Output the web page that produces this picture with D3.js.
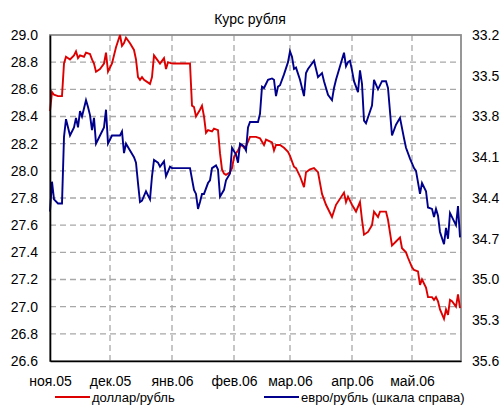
<!DOCTYPE html>
<html>
<head>
<meta charset="utf-8">
<script src="https://cdn.jsdelivr.net/npm/d3@7"></script>
<style>
  body { margin: 0; background: #fff; }
  svg text { font-family: "Liberation Sans", Arial, sans-serif; fill: #000; }
</style>
</head>
<body>
<div id="plot"></div>
<script>
// chart values
var title = 'Курс рубля';
var monthStarts = ['2005-11-01','2005-12-01','2006-01-01','2006-02-01','2006-03-01','2006-04-01','2006-05-01'];
var monthLabels = ['ноя.05','дек.05','янв.06','фев.06','мар.06','апр.06','май.06'];
var leftTicks = [26.6,26.8,27.0,27.2,27.4,27.6,27.8,28.0,28.2,28.4,28.6,28.8,29.0];
var rightTicks = [33.2,33.5,33.8,34.1,34.4,34.7,35.0,35.3,35.6];
var seriesNames = ['доллар/рубль','евро/рубль (шкала справа)'];

var usd = [
  ['2005-11-01',28.44],['2005-11-02',28.58],['2005-11-03',28.56],['2005-11-05',28.55],['2005-11-07',28.55],
  ['2005-11-08',28.79],['2005-11-09',28.84],['2005-11-11',28.82],['2005-11-13',28.85],['2005-11-14',28.88],
  ['2005-11-15',28.83],['2005-11-16',28.85],['2005-11-18',28.84],['2005-11-19',28.87],['2005-11-21',28.86],
  ['2005-11-22',28.82],['2005-11-23',28.79],['2005-11-24',28.73],['2005-11-26',28.75],['2005-11-28',28.79],
  ['2005-11-29',28.87],['2005-11-30',28.73],['2005-12-02',28.79],['2005-12-04',28.91],['2005-12-06',29.00],
  ['2005-12-07',28.92],['2005-12-08',28.94],['2005-12-09',28.98],['2005-12-11',28.94],['2005-12-13',28.89],
  ['2005-12-14',28.82],['2005-12-15',28.69],['2005-12-16',28.67],['2005-12-17',28.69],['2005-12-18',28.67],
  ['2005-12-21',28.64],['2005-12-22',28.69],['2005-12-23',28.85],['2005-12-24',28.83],['2005-12-26',28.79],
  ['2005-12-28',28.83],['2005-12-29',28.75],['2005-12-30',28.80],['2006-01-01',28.79],['2006-01-10',28.79],
  ['2006-01-11',28.48],['2006-01-12',28.47],['2006-01-13',28.40],['2006-01-15',28.45],['2006-01-16',28.48],
  ['2006-01-17',28.40],['2006-01-18',28.28],['2006-01-19',28.30],['2006-01-21',28.29],['2006-01-22',28.31],
  ['2006-01-24',28.30],['2006-01-25',28.13],['2006-01-26',28.01],['2006-01-27',27.98],['2006-01-28',27.97],
  ['2006-01-30',27.99],['2006-01-31',28.02],['2006-02-01',28.10],['2006-02-02',28.13],['2006-02-03',28.15],
  ['2006-02-04',28.18],['2006-02-05',28.19],['2006-02-06',28.17],['2006-02-07',28.18],['2006-02-09',28.25],
  ['2006-02-11',28.25],['2006-02-12',28.25],['2006-02-14',28.24],['2006-02-16',28.19],['2006-02-17',28.23],
  ['2006-02-20',28.21],['2006-02-21',28.15],['2006-02-22',28.19],['2006-02-24',28.19],['2006-02-26',28.17],
  ['2006-02-28',28.14],['2006-03-01',28.11],['2006-03-03',28.03],['2006-03-04',28.02],['2006-03-06',27.96],
  ['2006-03-08',27.88],['2006-03-09',27.99],['2006-03-11',28.01],['2006-03-13',28.02],['2006-03-15',27.99],
  ['2006-03-17',27.83],['2006-03-19',27.75],['2006-03-22',27.66],['2006-03-24',27.75],['2006-03-28',27.84],
  ['2006-03-29',27.77],['2006-03-30',27.81],['2006-04-01',27.75],['2006-04-03',27.70],['2006-04-05',27.77],
  ['2006-04-06',27.64],['2006-04-07',27.53],['2006-04-09',27.55],['2006-04-11',27.60],['2006-04-12',27.70],
  ['2006-04-14',27.66],['2006-04-15',27.70],['2006-04-18',27.70],['2006-04-19',27.64],['2006-04-21',27.45],
  ['2006-04-23',27.48],['2006-04-25',27.51],['2006-04-26',27.43],['2006-04-28',27.40],['2006-04-29',27.36],
  ['2006-05-01',27.29],['2006-05-02',27.27],['2006-05-04',27.26],['2006-05-05',27.16],['2006-05-06',27.20],
  ['2006-05-08',27.14],['2006-05-09',27.07],['2006-05-11',27.07],['2006-05-12',27.05],['2006-05-13',27.07],
  ['2006-05-14',27.04],['2006-05-15',26.98],['2006-05-17',26.91],['2006-05-18',26.98],['2006-05-19',26.94],
  ['2006-05-20',27.05],['2006-05-21',27.04],['2006-05-23',27.00],['2006-05-24',27.09],['2006-05-25',26.99]
];

var eur = [
  ['2005-11-01',34.50],['2005-11-02',34.28],['2005-11-03',34.41],['2005-11-05',34.44],['2005-11-07',34.44],
  ['2005-11-08',33.95],['2005-11-09',33.82],['2005-11-11',33.94],['2005-11-13',33.88],['2005-11-14',33.81],
  ['2005-11-15',33.88],['2005-11-16',33.76],['2005-11-17',33.80],['2005-11-19',33.68],['2005-11-20',33.73],
  ['2005-11-21',33.79],['2005-11-22',33.90],['2005-11-23',33.81],['2005-11-24',34.00],['2005-11-26',33.94],
  ['2005-11-28',33.88],['2005-11-29',33.75],['2005-11-30',34.00],['2005-12-02',33.94],['2005-12-06',33.94],
  ['2005-12-07',33.91],['2005-12-08',34.07],['2005-12-09',34.00],['2005-12-11',34.05],['2005-12-13',34.10],
  ['2005-12-14',34.14],['2005-12-15',34.29],['2005-12-16',34.43],['2005-12-17',34.42],['2005-12-19',34.35],
  ['2005-12-21',34.41],['2005-12-22',34.24],['2005-12-23',34.12],['2005-12-25',34.14],['2005-12-26',34.17],
  ['2005-12-28',34.13],['2005-12-29',34.24],['2005-12-31',34.17],['2006-01-01',34.18],['2006-01-10',34.18],
  ['2006-01-12',34.34],['2006-01-13',34.37],['2006-01-14',34.48],['2006-01-15',34.43],['2006-01-16',34.37],
  ['2006-01-17',34.37],['2006-01-19',34.29],['2006-01-20',34.27],['2006-01-21',34.18],['2006-01-23',34.16],
  ['2006-01-24',34.19],['2006-01-25',34.39],['2006-01-27',34.34],['2006-01-28',34.27],['2006-01-30',34.22],
  ['2006-01-31',34.03],['2006-02-02',34.08],['2006-02-03',34.14],['2006-02-04',34.00],['2006-02-06',34.02],
  ['2006-02-07',34.05],['2006-02-08',33.88],['2006-02-09',33.84],['2006-02-12',33.84],['2006-02-13',33.84],
  ['2006-02-14',33.78],['2006-02-15',33.58],['2006-02-16',33.59],['2006-02-18',33.53],['2006-02-20',33.52],
  ['2006-02-21',33.53],['2006-02-22',33.65],['2006-02-23',33.58],['2006-02-24',33.57],['2006-02-26',33.49],
  ['2006-02-28',33.40],['2006-03-01',33.32],['2006-03-02',33.36],['2006-03-03',33.45],['2006-03-04',33.44],
  ['2006-03-06',33.53],['2006-03-08',33.65],['2006-03-09',33.48],['2006-03-10',33.45],['2006-03-12',33.41],
  ['2006-03-13',33.39],['2006-03-15',33.51],['2006-03-17',33.48],['2006-03-18',33.54],['2006-03-20',33.64],
  ['2006-03-22',33.68],['2006-03-23',33.59],['2006-03-24',33.53],['2006-03-26',33.43],['2006-03-28',33.33],
  ['2006-03-29',33.43],['2006-03-30',33.40],['2006-03-31',33.39],['2006-04-01',33.46],['2006-04-02',33.54],
  ['2006-04-04',33.62],['2006-04-05',33.46],['2006-04-06',33.56],['2006-04-07',33.83],['2006-04-08',33.85],
  ['2006-04-11',33.72],['2006-04-12',33.53],['2006-04-14',33.60],['2006-04-16',33.54],['2006-04-18',33.54],
  ['2006-04-19',33.59],['2006-04-21',33.94],['2006-04-23',33.86],['2006-04-25',33.81],['2006-04-27',33.96],
  ['2006-04-28',34.03],['2006-04-30',34.11],['2006-05-02',34.18],['2006-05-03',34.20],['2006-05-05',34.37],
  ['2006-05-06',34.29],['2006-05-08',34.35],['2006-05-09',34.47],['2006-05-11',34.48],['2006-05-12',34.54],
  ['2006-05-13',34.48],['2006-05-14',34.53],['2006-05-15',34.65],['2006-05-17',34.74],['2006-05-18',34.62],
  ['2006-05-19',34.70],['2006-05-20',34.51],['2006-05-22',34.57],['2006-05-23',34.60],['2006-05-24',34.46],
  ['2006-05-25',34.69]
];

var W = 501, H = 406;
var margin = {t:35, r:40, b:45, l:50};
var width = W - margin.l - margin.r,
    height = H - margin.t - margin.b;

var parse = d3.timeParse('%Y-%m-%d');

var svg = d3.select('#plot')
    .append('svg')
    .attr('width', W)
    .attr('height', H);

var plot = svg.append('g')
    .attr('transform','translate('+margin.l+','+margin.t+')');

var x = d3.scaleTime()
    .domain([parse('2005-11-01'), d3.timeHour.offset(parse('2006-05-25'), 12)])
    .range([0, width]);
var yL = d3.scaleLinear().domain([26.6, 29.0]).range([height, 0]);
var yR = d3.scaleLinear().domain([33.2, 35.6]).range([0, height]);

// grid
plot.append('g').selectAll('line')
    .data(leftTicks.slice(1, -1))
    .enter().append('line')
    .attr('x1', 0).attr('x2', width)
    .attr('y1', function(d){return yL(d)}).attr('y2', function(d){return yL(d)})
    .style('stroke','#a8a8a8').style('stroke-width',1.3).style('stroke-dasharray','6,4');

plot.append('g').selectAll('line')
    .data(monthStarts.slice(1))
    .enter().append('line')
    .attr('x1', function(d){return x(parse(d))}).attr('x2', function(d){return x(parse(d))})
    .attr('y1', 0).attr('y2', height)
    .style('stroke','#a8a8a8').style('stroke-width',1.3).style('stroke-dasharray','6,4');

// border
plot.append('rect')
    .attr('width', width).attr('height', height)
    .style('fill','none').style('stroke','#8c8c8c').style('stroke-width',1.8);

// lines
var lineUsd = d3.line()
    .x(function(d){return x(parse(d[0]))})
    .y(function(d){return yL(d[1])});
var lineEur = d3.line()
    .x(function(d){return x(parse(d[0]))})
    .y(function(d){return yR(d[1])});

plot.append('path').datum(usd)
    .attr('d', lineUsd)
    .style('fill','none').style('stroke','#dd0000').style('stroke-width',1.9);
plot.append('path').datum(eur)
    .attr('d', lineEur)
    .style('fill','none').style('stroke','#00008c').style('stroke-width',1.9);

// axes
var axL = plot.append('g')
    .call(d3.axisLeft(yL).tickValues(leftTicks).tickFormat(d3.format('.1f')).tickSize(0).tickPadding(12));
var axR = plot.append('g')
    .attr('transform','translate('+width+',0)')
    .call(d3.axisRight(yR).tickValues(rightTicks).tickFormat(d3.format('.1f')).tickSize(0).tickPadding(11));
axR.select('.domain').remove();
var axB = plot.append('g')
    .attr('transform','translate(0,'+height+')')
    .call(d3.axisBottom(x).tickValues(monthStarts.map(parse))
        .tickFormat(function(d,i){return monthLabels[i]}).tickSize(0).tickPadding(15));

[axL, axR, axB].forEach(function(a){
    a.selectAll('text').style('font-size','14px').style('font-family','"Liberation Sans", Arial, sans-serif').style('fill','#000');
    a.select('.domain').style('stroke','#000').style('stroke-width',1.6);
});

// title
svg.append('text')
    .attr('x', 250).attr('y', 24)
    .attr('text-anchor','middle')
    .style('font-size','14px')
    .text(title);

// legend
var legend = [
  {name: seriesNames[0], color: '#dd0000', x: 55},
  {name: seriesNames[1], color: '#00008c', x: 264}
];
var lg = svg.append('g').selectAll('g').data(legend).enter().append('g')
    .attr('transform', function(d){return 'translate('+d.x+',397)'});
lg.append('line').attr('x1',0).attr('x2',35).attr('y1',0).attr('y2',0)
    .style('stroke', function(d){return d.color}).style('stroke-width',1.8);
lg.append('text').attr('x',37).attr('y',5)
    .style('font-size','13px')
    .text(function(d){return d.name});
</script>
</body>
</html>
